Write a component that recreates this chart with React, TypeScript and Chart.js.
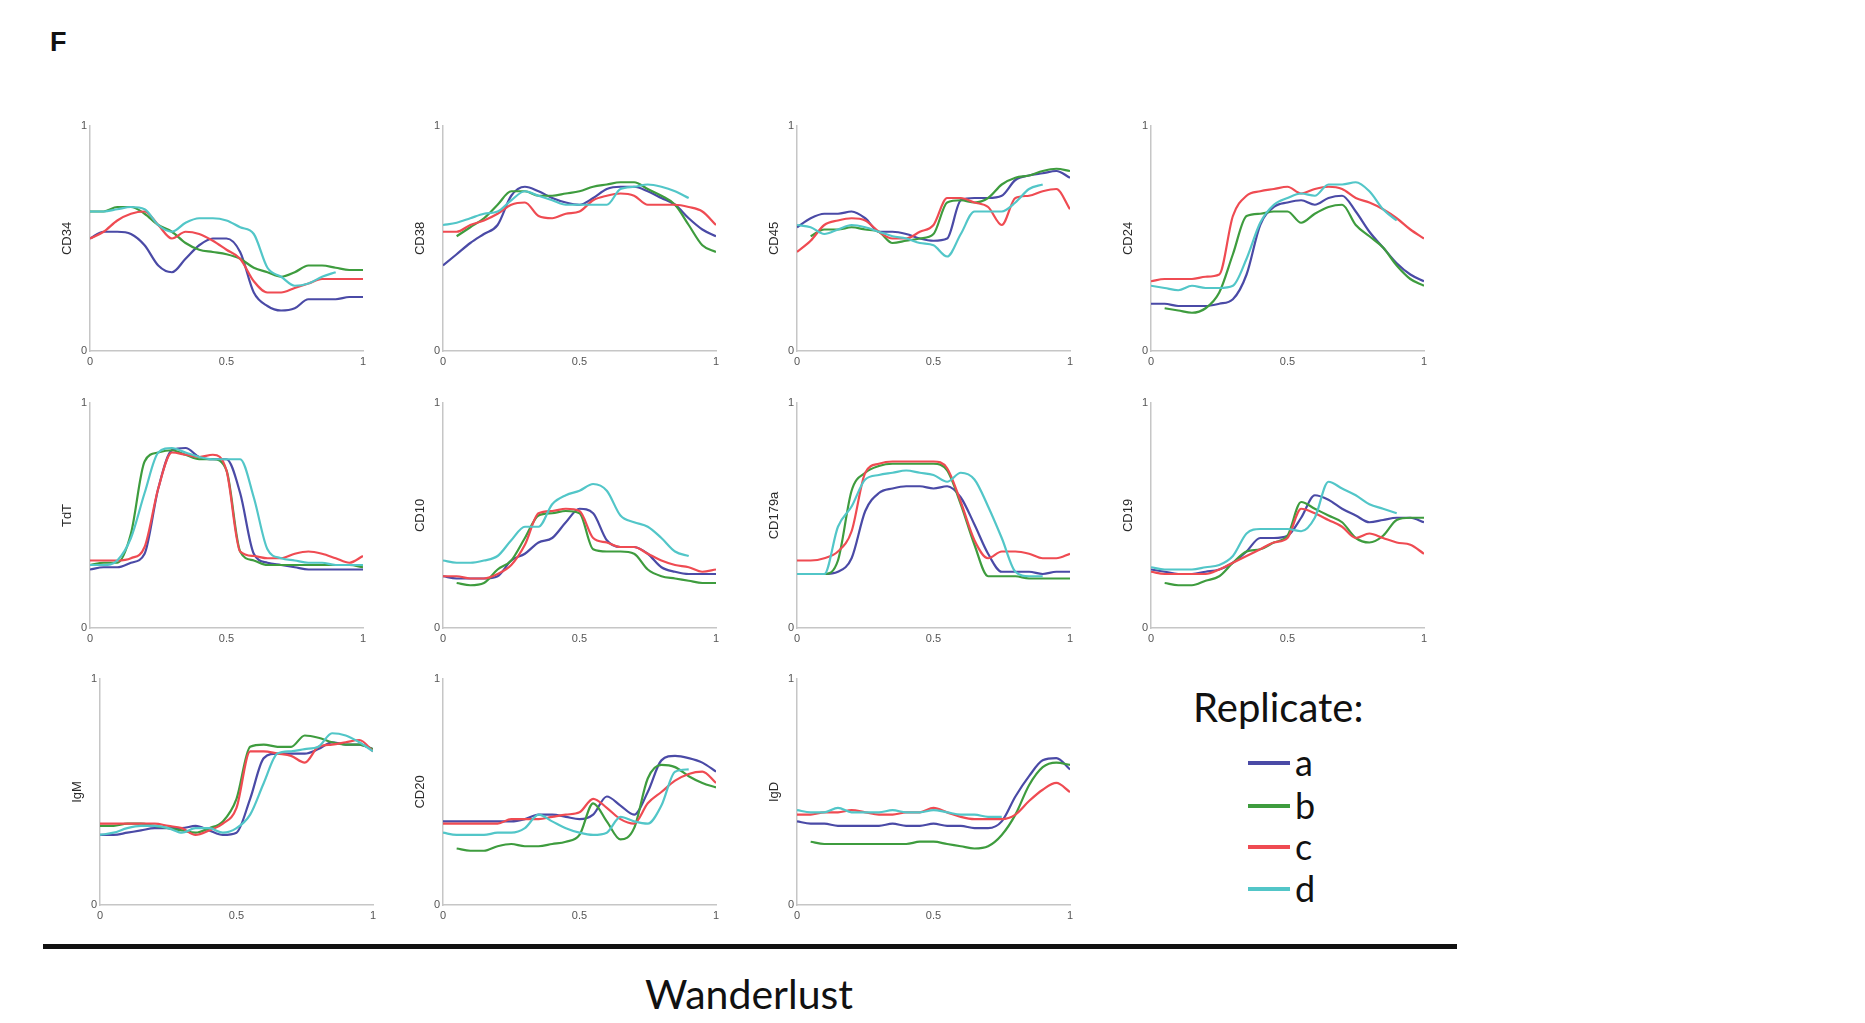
import React, { useEffect, useRef } from 'react';
import { Chart, registerables } from 'chart.js';

Chart.register(...registerables);

// ---------------- data ----------------
const X_GRID = [0, 0.05, 0.1, 0.15, 0.2, 0.25, 0.3, 0.35, 0.4, 0.45, 0.5, 0.55, 0.6, 0.65, 0.7, 0.75, 0.8, 0.85, 0.9, 0.95, 1];
const X_TICKS = [0, 0.5, 1];
const Y_TICKS = [0, 1];
const REPLICATES = ['a', 'b', 'c', 'd'];
const REPLICATE_COLORS = ['#4a4aa6', '#3e9c3e', '#ef4b52', '#52c6c8'];

const CD34 = [
  [0.50, 0.53, 0.53, 0.52, 0.47, 0.38, 0.35, 0.41, 0.47, 0.50, 0.50, 0.44, 0.26, 0.20, 0.18, 0.19, 0.23, 0.23, 0.23, 0.24, 0.24],
  [0.62, 0.62, 0.64, 0.64, 0.61, 0.56, 0.53, 0.48, 0.45, 0.44, 0.43, 0.41, 0.37, 0.35, 0.33, 0.35, 0.38, 0.38, 0.37, 0.36, 0.36],
  [0.50, 0.53, 0.58, 0.61, 0.62, 0.56, 0.50, 0.53, 0.52, 0.49, 0.45, 0.41, 0.31, 0.26, 0.26, 0.28, 0.30, 0.32, 0.32, 0.32, 0.32],
  [0.62, 0.62, 0.63, 0.64, 0.63, 0.56, 0.53, 0.57, 0.59, 0.59, 0.58, 0.55, 0.52, 0.37, 0.33, 0.29, 0.30, 0.33, 0.35, null, null],
];
const CD38 = [
  [0.38, 0.43, 0.48, 0.52, 0.56, 0.69, 0.73, 0.71, 0.68, 0.66, 0.65, 0.68, 0.72, 0.73, 0.73, 0.71, 0.68, 0.65, 0.59, 0.54, 0.51],
  [null, 0.51, 0.55, 0.59, 0.65, 0.71, 0.71, 0.69, 0.69, 0.70, 0.71, 0.73, 0.74, 0.75, 0.75, 0.72, 0.69, 0.65, 0.56, 0.47, 0.44],
  [0.53, 0.53, 0.56, 0.58, 0.61, 0.65, 0.66, 0.60, 0.59, 0.61, 0.62, 0.67, 0.69, 0.70, 0.69, 0.65, 0.65, 0.65, 0.64, 0.62, 0.56],
  [0.56, 0.57, 0.59, 0.61, 0.62, 0.67, 0.71, 0.69, 0.67, 0.65, 0.65, 0.65, 0.65, 0.72, 0.73, 0.74, 0.73, 0.71, 0.68, null, null],
];
const CD45 = [
  [0.55, 0.59, 0.61, 0.61, 0.62, 0.59, 0.53, 0.53, 0.52, 0.50, 0.49, 0.50, 0.67, 0.68, 0.68, 0.69, 0.76, 0.78, 0.79, 0.80, 0.77],
  [null, 0.51, 0.54, 0.54, 0.55, 0.54, 0.53, 0.48, 0.49, 0.50, 0.52, 0.66, 0.67, 0.66, 0.68, 0.74, 0.77, 0.78, 0.80, 0.81, 0.80],
  [0.44, 0.49, 0.56, 0.58, 0.59, 0.58, 0.53, 0.50, 0.50, 0.53, 0.56, 0.68, 0.68, 0.66, 0.64, 0.56, 0.68, 0.69, 0.71, 0.72, 0.63],
  [0.56, 0.55, 0.52, 0.54, 0.56, 0.55, 0.53, 0.51, 0.50, 0.48, 0.47, 0.42, 0.52, 0.62, 0.62, 0.62, 0.66, 0.72, 0.74, null, null],
];
const CD24 = [
  [0.21, 0.21, 0.20, 0.20, 0.20, 0.21, 0.23, 0.34, 0.56, 0.64, 0.66, 0.67, 0.65, 0.68, 0.69, 0.62, 0.53, 0.46, 0.39, 0.34, 0.31],
  [null, 0.19, 0.18, 0.17, 0.19, 0.26, 0.43, 0.60, 0.61, 0.62, 0.62, 0.57, 0.61, 0.64, 0.65, 0.56, 0.51, 0.46, 0.38, 0.32, 0.29],
  [0.31, 0.32, 0.32, 0.32, 0.33, 0.34, 0.60, 0.69, 0.71, 0.72, 0.73, 0.70, 0.72, 0.73, 0.72, 0.68, 0.66, 0.63, 0.59, 0.54, 0.50],
  [0.29, 0.28, 0.27, 0.29, 0.28, 0.28, 0.29, 0.41, 0.57, 0.65, 0.68, 0.70, 0.69, 0.74, 0.74, 0.75, 0.71, 0.63, 0.58, null, null],
];
const TDT = [
  [0.26, 0.27, 0.27, 0.29, 0.33, 0.62, 0.79, 0.80, 0.76, 0.75, 0.75, 0.60, 0.33, 0.29, 0.28, 0.27, 0.26, 0.26, 0.26, 0.26, 0.26],
  [0.28, 0.29, 0.29, 0.42, 0.74, 0.78, 0.79, 0.77, 0.75, 0.75, 0.70, 0.34, 0.30, 0.28, 0.28, 0.28, 0.28, 0.28, 0.28, 0.28, 0.27],
  [0.30, 0.30, 0.30, 0.31, 0.36, 0.62, 0.78, 0.77, 0.76, 0.77, 0.70, 0.34, 0.32, 0.31, 0.31, 0.33, 0.34, 0.33, 0.31, 0.29, 0.32],
  [0.28, 0.28, 0.30, 0.40, 0.60, 0.78, 0.80, 0.78, 0.76, 0.75, 0.75, 0.75, 0.58, 0.35, 0.31, 0.30, 0.29, 0.29, 0.28, 0.28, 0.28],
];
const CD10 = [
  [0.23, 0.22, 0.22, 0.22, 0.23, 0.30, 0.33, 0.38, 0.40, 0.47, 0.53, 0.51, 0.39, 0.36, 0.36, 0.33, 0.27, 0.25, 0.24, 0.24, 0.24],
  [null, 0.20, 0.19, 0.20, 0.26, 0.30, 0.40, 0.50, 0.51, 0.52, 0.51, 0.35, 0.34, 0.34, 0.33, 0.26, 0.23, 0.22, 0.21, 0.20, 0.20],
  [0.23, 0.23, 0.22, 0.22, 0.24, 0.28, 0.37, 0.51, 0.52, 0.53, 0.52, 0.40, 0.38, 0.36, 0.36, 0.33, 0.30, 0.28, 0.27, 0.25, 0.26],
  [0.30, 0.29, 0.29, 0.30, 0.32, 0.39, 0.45, 0.45, 0.55, 0.59, 0.61, 0.64, 0.61, 0.50, 0.47, 0.45, 0.40, 0.34, 0.32, null, null],
];
const CD179A = [
  [0.24, 0.24, 0.24, 0.25, 0.31, 0.52, 0.60, 0.62, 0.63, 0.63, 0.62, 0.63, 0.58, 0.46, 0.33, 0.25, 0.25, 0.25, 0.24, 0.25, 0.25],
  [0.24, 0.24, 0.24, 0.30, 0.61, 0.69, 0.72, 0.73, 0.73, 0.73, 0.73, 0.70, 0.55, 0.37, 0.23, 0.23, 0.23, 0.22, 0.22, 0.22, 0.22],
  [0.30, 0.30, 0.31, 0.34, 0.43, 0.69, 0.73, 0.74, 0.74, 0.74, 0.74, 0.71, 0.56, 0.39, 0.31, 0.34, 0.34, 0.33, 0.31, 0.31, 0.33],
  [0.24, 0.24, 0.24, 0.45, 0.54, 0.66, 0.68, 0.69, 0.70, 0.69, 0.68, 0.65, 0.69, 0.66, 0.54, 0.40, 0.25, 0.23, 0.23, null, null],
];
const CD19 = [
  [0.26, 0.25, 0.24, 0.24, 0.25, 0.26, 0.29, 0.34, 0.40, 0.40, 0.41, 0.49, 0.59, 0.57, 0.53, 0.50, 0.47, 0.48, 0.49, 0.49, 0.47],
  [null, 0.20, 0.19, 0.19, 0.21, 0.23, 0.29, 0.34, 0.35, 0.38, 0.41, 0.56, 0.53, 0.50, 0.47, 0.40, 0.38, 0.41, 0.48, 0.49, 0.49],
  [0.25, 0.24, 0.24, 0.24, 0.24, 0.26, 0.29, 0.32, 0.35, 0.38, 0.40, 0.53, 0.51, 0.48, 0.45, 0.40, 0.42, 0.40, 0.38, 0.37, 0.33],
  [0.27, 0.26, 0.26, 0.26, 0.27, 0.28, 0.32, 0.42, 0.44, 0.44, 0.44, 0.43, 0.49, 0.65, 0.62, 0.59, 0.55, 0.53, 0.51, null, null],
];
const IGM = [
  [0.31, 0.31, 0.32, 0.33, 0.34, 0.34, 0.34, 0.35, 0.33, 0.31, 0.32, 0.47, 0.65, 0.67, 0.67, 0.67, 0.69, 0.72, 0.71, 0.71, 0.69],
  [0.35, 0.35, 0.36, 0.36, 0.35, 0.34, 0.33, 0.32, 0.34, 0.37, 0.47, 0.70, 0.71, 0.70, 0.70, 0.75, 0.74, 0.72, 0.71, 0.71, 0.69],
  [0.36, 0.36, 0.36, 0.36, 0.36, 0.35, 0.34, 0.31, 0.33, 0.36, 0.43, 0.68, 0.68, 0.67, 0.66, 0.63, 0.70, 0.71, 0.72, 0.73, 0.68],
  [0.31, 0.32, 0.34, 0.35, 0.35, 0.34, 0.32, 0.34, 0.34, 0.32, 0.34, 0.40, 0.54, 0.67, 0.68, 0.69, 0.70, 0.76, 0.75, 0.72, 0.68],
];
const CD20 = [
  [0.37, 0.37, 0.37, 0.37, 0.37, 0.37, 0.38, 0.40, 0.40, 0.39, 0.38, 0.40, 0.48, 0.44, 0.40, 0.50, 0.64, 0.66, 0.65, 0.63, 0.59],
  [null, 0.25, 0.24, 0.24, 0.26, 0.27, 0.26, 0.26, 0.27, 0.28, 0.31, 0.45, 0.37, 0.29, 0.34, 0.56, 0.62, 0.61, 0.57, 0.54, 0.52],
  [0.36, 0.36, 0.36, 0.36, 0.36, 0.38, 0.38, 0.38, 0.39, 0.40, 0.41, 0.47, 0.43, 0.38, 0.36, 0.45, 0.50, 0.55, 0.58, 0.59, 0.54],
  [0.32, 0.31, 0.31, 0.31, 0.32, 0.32, 0.34, 0.40, 0.37, 0.34, 0.32, 0.31, 0.32, 0.39, 0.37, 0.36, 0.44, 0.59, 0.60, null, null],
];
const IGD = [
  [0.37, 0.36, 0.36, 0.35, 0.35, 0.35, 0.35, 0.36, 0.35, 0.35, 0.36, 0.35, 0.35, 0.34, 0.34, 0.37, 0.48, 0.57, 0.64, 0.65, 0.60],
  [null, 0.28, 0.27, 0.27, 0.27, 0.27, 0.27, 0.27, 0.27, 0.28, 0.28, 0.27, 0.26, 0.25, 0.26, 0.31, 0.40, 0.53, 0.61, 0.63, 0.62],
  [0.40, 0.40, 0.41, 0.41, 0.42, 0.41, 0.40, 0.40, 0.41, 0.41, 0.43, 0.41, 0.39, 0.38, 0.38, 0.38, 0.40, 0.46, 0.51, 0.54, 0.50],
  [0.42, 0.41, 0.41, 0.43, 0.41, 0.41, 0.41, 0.42, 0.41, 0.41, 0.42, 0.41, 0.40, 0.40, 0.39, 0.39, null, null, null, null, null],
];

const MARKERS = ['CD34', 'CD38', 'CD45', 'CD24', 'TdT', 'CD10', 'CD179a', 'CD19', 'IgM', 'CD20', 'IgD'];
const MARKER_VALUES = [CD34, CD38, CD45, CD24, TDT, CD10, CD179A, CD19, IGM, CD20, IGD];

// ---------------- layout ----------------
const COL_LEFT = [90, 443, 797, 1151];
const ROW_TOP = [126, 403, 679];
const ROW_BOTTOM = [351, 628, 905];
const PLOT_W = 273;
const ROW3_FIRST_SHIFT = 10;
const YW = 30;
const PT = 10;
const PR = 12;
const XH = 22;
const TICK_FONT = { family: '"Liberation Sans", Arial, sans-serif', size: 11 };

type PanelProps = { label: string; values: (number | null)[][]; left: number; top: number; height: number };

function Panel({ label, values, left, top, height }: PanelProps) {
  const ref = useRef<HTMLCanvasElement>(null);
  const cw = YW + PLOT_W + PR;
  const ch = PT + height + XH;
  useEffect(() => {
    const chart = new Chart(ref.current as HTMLCanvasElement, {
      type: 'line',
      data: {
        datasets: values.map((vals, i) => ({
          label: REPLICATES[i],
          data: X_GRID.map((x, j) => ({ x, y: vals[j] })),
          borderColor: REPLICATE_COLORS[i],
          backgroundColor: REPLICATE_COLORS[i],
          borderWidth: 2.2,
          pointRadius: 0,
          tension: 0.4,
          cubicInterpolationMode: 'monotone',
          fill: false,
          order: 4 - i,
        })),
      },
      options: {
        animation: false,
        responsive: false,
        maintainAspectRatio: false,
        devicePixelRatio: 1,
        layout: { padding: { top: PT, right: PR, left: 0, bottom: 0 } },
        plugins: { legend: { display: false }, tooltip: { enabled: false } },
        scales: {
          x: {
            type: 'linear',
            min: 0,
            max: 1,
            grid: { display: false, drawTicks: false },
            border: { display: true, color: '#c6c6c6', width: 1.5 },
            afterBuildTicks: (s: any) => { s.ticks = X_TICKS.map((v) => ({ value: v })); },
            ticks: {
              autoSkip: false,
              maxRotation: 0,
              padding: 4,
              color: '#555',
              font: TICK_FONT,
              callback: (v: any) => String(v),
            },
            afterFit: (s: any) => { s.height = XH; },
          },
          y: {
            type: 'linear',
            min: 0,
            max: 1,
            grid: { display: false, drawTicks: false },
            border: { display: true, color: '#c6c6c6', width: 1.5 },
            afterBuildTicks: (s: any) => { s.ticks = Y_TICKS.map((v) => ({ value: v })); },
            ticks: {
              autoSkip: false,
              padding: 3,
              color: '#555',
              font: TICK_FONT,
              callback: (v: any) => String(v),
            },
            title: {
              display: true,
              text: label,
              color: '#2a2a2a',
              padding: 0,
              font: { family: '"Liberation Sans", Arial, sans-serif', size: 13 },
            },
            afterFit: (s: any) => { s.width = YW; },
          },
        },
      } as any,
    });
    return () => chart.destroy();
  }, []);
  return (
    <canvas
      ref={ref}
      width={cw}
      height={ch}
      style={{ position: 'absolute', left: left - YW, top: top - PT, width: cw, height: ch }}
    />
  );
}

const LEGEND_Y = [763, 806, 847, 889];

export default function App() {
  const panels = MARKERS.map((m, i) => {
    const row = Math.floor(i / 4);
    const col = i % 4;
    const left = COL_LEFT[col] + (row === 2 && col === 0 ? ROW3_FIRST_SHIFT : 0);
    return (
      <Panel
        key={m}
        label={m}
        values={MARKER_VALUES[i]}
        left={left}
        top={ROW_TOP[row]}
        height={ROW_BOTTOM[row] - ROW_TOP[row]}
      />
    );
  });
  return (
    <div style={{ position: 'absolute', left: 0, top: 0, width: 1865, height: 1023, background: '#fff', overflow: 'hidden' }}>
      <div style={{ position: 'absolute', left: 50, top: 29, fontFamily: '"Liberation Sans", Arial, sans-serif', fontWeight: 'bold', fontSize: 27, lineHeight: 1, color: '#111' }}>F</div>
      {panels}
      <div style={{ position: 'absolute', left: 1193, top: 687, fontFamily: 'Lato, sans-serif', fontSize: 40, lineHeight: 1, color: '#111' }}>Replicate:</div>
      {REPLICATES.map((r, i) => (
        <React.Fragment key={r}>
          <div style={{ position: 'absolute', left: 1248, top: LEGEND_Y[i] - 2, width: 42, height: 4, background: REPLICATE_COLORS[i] }} />
          <div style={{ position: 'absolute', left: 1295, top: LEGEND_Y[i] - 19, fontFamily: 'Lato, sans-serif', fontSize: 36, lineHeight: 1, color: '#111' }}>{r}</div>
        </React.Fragment>
      ))}
      <div style={{ position: 'absolute', left: 43, top: 944, width: 1414, height: 5, background: '#111' }} />
      <div style={{ position: 'absolute', left: 549, top: 973, width: 400, textAlign: 'center', fontFamily: 'Lato, sans-serif', fontSize: 41, lineHeight: 1, color: '#111' }}>Wanderlust</div>
    </div>
  );
}
